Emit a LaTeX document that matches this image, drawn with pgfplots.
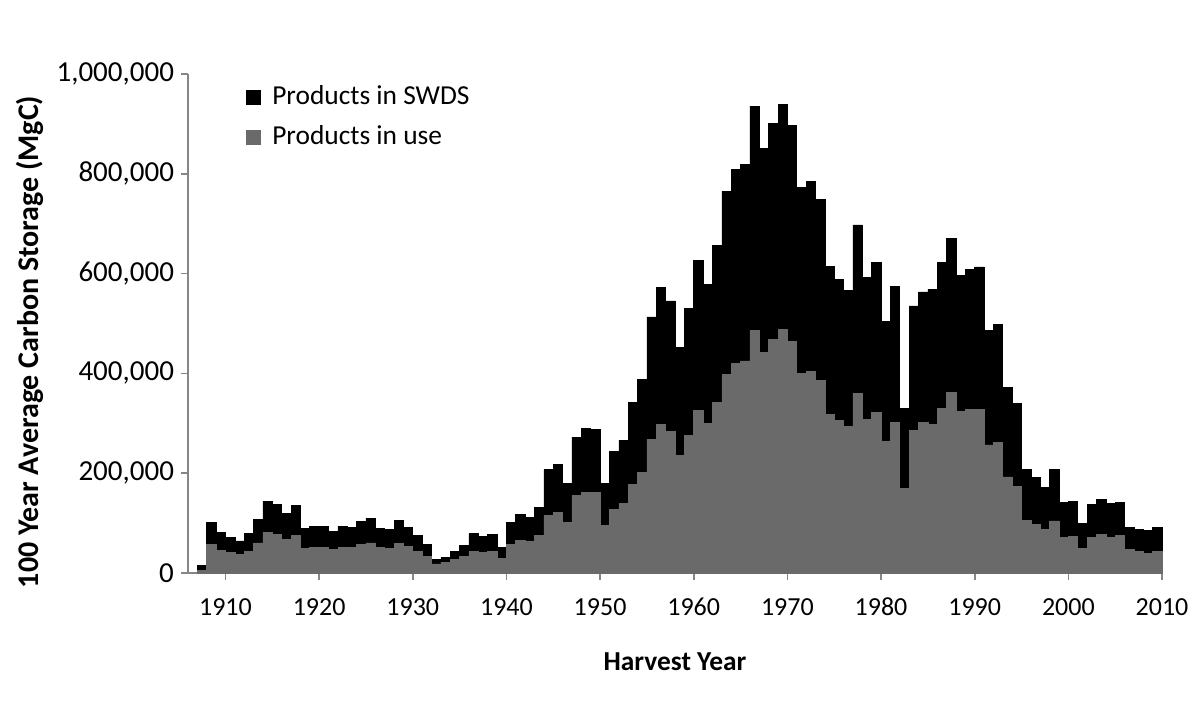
\documentclass[border=0pt]{standalone}
\usepackage{pgfplots}
\pgfplotsset{compat=1.18}
\usepackage{pgfplotstable}
\usepackage{fontspec}
\setmainfont{Carlito}
\definecolor{usegray}{RGB}{106,106,106}
\definecolor{axgray}{RGB}{134,134,134}
\pgfplotstableread{
year use swds
1907 5000 10000
1908 57200 44700
1909 45100 36100
1910 41800 30000
1911 37100 27400
1912 43800 36100
1913 60500 47400
1914 81900 62200
1915 77200 59600
1916 67200 52800
1917 75900 59500
1918 49800 40100
1919 51800 41500
1920 51800 41500
1921 46500 36100
1922 51800 41500
1923 50500 41400
1924 57200 46700
1925 60500 49500
1926 50500 39400
1927 49100 38800
1928 59800 44900
1929 53200 38700
1930 43800 31400
1931 33100 23500
1932 18400 8100
1933 21100 9400
1934 26500 16000
1935 33100 22100
1936 43800 34800
1937 41800 31400
1938 43800 32800
1939 29700 22100
1940 57200 44700
1941 64600 52100
1942 63200 48800
1943 75200 56800
1944 115300 91700
1945 122000 95600
1946 101900 78200
1947 154900 117500
1948 162100 127800
1949 162100 126400
1950 94700 85400
1951 126800 116900
1952 138800 127000
1953 177500 163900
1954 201600 186000
1955 267200 245900
1956 297300 274800
1957 283900 261300
1958 235100 216700
1959 275800 254200
1960 326000 300900
1961 300500 277600
1962 341400 315000
1963 397600 367700
1964 419700 389100
1965 424900 393200
1966 485400 450400
1967 441700 408500
1968 467800 433300
1969 487900 450500
1970 464400 433300
1971 400200 372500
1972 404800 379200
1973 386200 362500
1974 318000 296800
1975 305900 282900
1976 294200 272500
1977 360700 337000
1978 307300 285500
1979 322600 300300
1980 264400 240100
1981 301300 272800
1982 170100 159300
1983 285900 249300
1984 301300 262000
1985 297300 271400
1986 329400 293500
1987 361500 308900
1988 324000 272200
1989 328000 280200
1990 328000 285500
1991 256800 229700
1992 261500 236400
1993 192500 179500
1994 173500 165900
1995 105300 101700
1996 96700 94300
1997 87300 83600
1998 104300 102700
1999 71800 69200
2000 73800 69600
2001 49800 50100
2002 71800 65000
2003 77200 69600
2004 71800 67000
2005 74600 66200
2006 46500 45400
2007 43100 44200
2008 39700 45600
2009 43800 48100
}\datatable
\begin{document}
\begin{tikzpicture}
\path[use as bounding box] (0,0) rectangle (600pt,358.5pt);
\begin{axis}[
  at={(94pt,72pt)}, anchor=south west,
  width=487pt, height=249.5pt, scale only axis,
  xmin=1906, xmax=2010, ymin=0, ymax=1000000,
  ybar stacked, bar width=1,
  axis lines*=left,
  axis line style={axgray, line width=0.8pt, -},
  every tick/.style={axgray, line width=0.8pt},
  tick align=outside, major tick length=3.5pt,
  scaled y ticks=false, scaled x ticks=false,
  xtick={1910,1920,...,2010},
  xticklabels={1910,1920,1930,1940,1950,1960,1970,1980,1990,2000,2010},
  ytick={0,200000,400000,600000,800000,1000000},
  yticklabels={0,{200,000},{400,000},{600,000},{800,000},{1,000,000}},
  xticklabel style={font=\fontsize{13}{15}\selectfont, text height=9pt, text depth=0pt, yshift=-5pt},
  yticklabel style={font=\fontsize{14.5}{16}\selectfont},
  xlabel={\textbf{Harvest Year}},
  ylabel={\textbf{100 Year Average Carbon Storage (MgC)}},
  xlabel style={font=\fontsize{13.7}{15}\selectfont, at={(axis description cs:0.5,-0.178)}, anchor=center},
  ylabel style={font=\fontsize{15}{17}\selectfont, at={(axis description cs:-0.162,0.463)}, anchor=center},
  reverse legend,
  legend cell align=left,
  legend style={at={(axis description cs:0.053,0.993)}, anchor=north west, draw=none, fill=none,
    font=\fontsize{13.7}{15}\selectfont, row sep=5pt},
  legend image code/.code={\fill[#1] (0pt,-3.5pt) rectangle (7pt,3.5pt); \path[draw=none, fill=none] (7pt,0pt) -- (11pt,0pt);},
  clip=false,
]
\addplot[fill=usegray, draw=usegray, line width=0.3pt] table[x expr=\thisrow{year}+0.5, y=use] {\datatable};
\addlegendentry{Products in use}
\addplot[fill=black, draw=black, line width=0.3pt] table[x expr=\thisrow{year}+0.5, y=swds] {\datatable};
\addlegendentry{Products in SWDS}
\end{axis}
\end{tikzpicture}
\end{document}
